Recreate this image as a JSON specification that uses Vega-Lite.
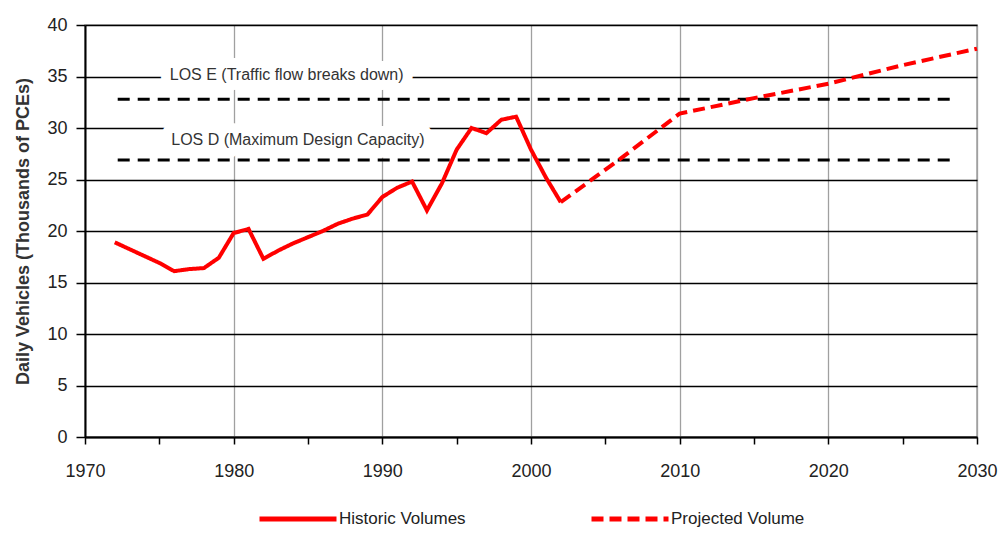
{
  "$schema": "https://vega.github.io/schema/vega-lite/v6.json",
  "width": 892,
  "height": 412,
  "padding": {"left": 14, "top": 16, "right": 0, "bottom": 0},
  "background": "white",
  "config": {
    "font": "Liberation Sans",
    "view": {"stroke": "#a0a0a0", "strokeWidth": 1.5},
    "legend": {"layout": {"bottom": {"anchor": "middle"}}}
  },
  "datasets": {
    "volumes": [
      {"year": 1972, "value": 18.9, "series": "Historic Volumes"},
      {"year": 1975, "value": 16.9, "series": "Historic Volumes"},
      {"year": 1976, "value": 16.1, "series": "Historic Volumes"},
      {"year": 1977, "value": 16.3, "series": "Historic Volumes"},
      {"year": 1978, "value": 16.4, "series": "Historic Volumes"},
      {"year": 1979, "value": 17.4, "series": "Historic Volumes"},
      {"year": 1980, "value": 19.8, "series": "Historic Volumes"},
      {"year": 1981, "value": 20.2, "series": "Historic Volumes"},
      {"year": 1982, "value": 17.3, "series": "Historic Volumes"},
      {"year": 1983, "value": 18.1, "series": "Historic Volumes"},
      {"year": 1984, "value": 18.8, "series": "Historic Volumes"},
      {"year": 1985, "value": 19.4, "series": "Historic Volumes"},
      {"year": 1986, "value": 20.0, "series": "Historic Volumes"},
      {"year": 1987, "value": 20.7, "series": "Historic Volumes"},
      {"year": 1988, "value": 21.2, "series": "Historic Volumes"},
      {"year": 1989, "value": 21.6, "series": "Historic Volumes"},
      {"year": 1990, "value": 23.3, "series": "Historic Volumes"},
      {"year": 1991, "value": 24.2, "series": "Historic Volumes"},
      {"year": 1992, "value": 24.8, "series": "Historic Volumes"},
      {"year": 1993, "value": 22.0, "series": "Historic Volumes"},
      {"year": 1994, "value": 24.6, "series": "Historic Volumes"},
      {"year": 1995, "value": 27.9, "series": "Historic Volumes"},
      {"year": 1996, "value": 30.0, "series": "Historic Volumes"},
      {"year": 1997, "value": 29.5, "series": "Historic Volumes"},
      {"year": 1998, "value": 30.8, "series": "Historic Volumes"},
      {"year": 1999, "value": 31.1, "series": "Historic Volumes"},
      {"year": 2000, "value": 27.9, "series": "Historic Volumes"},
      {"year": 2001, "value": 25.2, "series": "Historic Volumes"},
      {"year": 2002, "value": 22.8, "series": "Historic Volumes"},
      {"year": 2002, "value": 22.8, "series": "Projected Volume"},
      {"year": 2006, "value": 27.0, "series": "Projected Volume"},
      {"year": 2010, "value": 31.4, "series": "Projected Volume"},
      {"year": 2015, "value": 32.9, "series": "Projected Volume"},
      {"year": 2020, "value": 34.3, "series": "Projected Volume"},
      {"year": 2025, "value": 36.1, "series": "Projected Volume"},
      {"year": 2030, "value": 37.7, "series": "Projected Volume"}
    ],
    "los": [
      {"level": "LOS E", "year": 1972.2, "value": 32.8},
      {"level": "LOS E", "year": 2028.6, "value": 32.8},
      {"level": "LOS D", "year": 1972.2, "value": 26.9},
      {"level": "LOS D", "year": 2028.6, "value": 26.9}
    ],
    "labels": [
      {"year": 1975.7, "value": 35.1, "label": "LOS E (Traffic flow breaks down)"},
      {"year": 1975.8, "value": 28.8, "label": "LOS D (Maximum Design Capacity)"}
    ]
  },
  "encoding": {
    "x": {
      "field": "year",
      "type": "quantitative",
      "scale": {"domain": [1970, 2030], "nice": false, "zero": false},
      "axis": {
        "title": null,
        "values": [1970, 1975, 1980, 1985, 1990, 1995, 2000, 2005, 2010, 2015, 2020, 2025, 2030],
        "format": "d",
        "labelExpr": "datum.value % 10 === 0 ? datum.label : ''",
        "grid": true,
        "gridColor": "#a0a0a0",
        "gridWidth": 1.3,
        "gridOpacity": {"condition": {"test": "datum.value % 10 !== 0", "value": 0}, "value": 1},
        "domainColor": "#000000",
        "domainWidth": 2,
        "tickColor": "#000000",
        "tickWidth": 1.5,
        "tickSize": 7,
        "labelFontSize": 18,
        "labelColor": "#222222",
        "labelPadding": 18,
        "labelFlush": false,
        "labelOverlap": false
      }
    },
    "y": {
      "field": "value",
      "type": "quantitative",
      "scale": {"domain": [0, 40], "nice": false},
      "axis": {
        "title": "Daily Vehicles (Thousands of PCEs)",
        "titleFontSize": 18,
        "titleFontWeight": "bold",
        "titleColor": "#333333",
        "titlePadding": 14,
        "values": [0, 5, 10, 15, 20, 25, 30, 35, 40],
        "grid": true,
        "gridColor": "#000000",
        "gridWidth": 1.5,
        "domainColor": "#000000",
        "domainWidth": 2,
        "tickColor": "#000000",
        "tickWidth": 1.5,
        "tickSize": 9,
        "labelFontSize": 18,
        "labelColor": "#222222",
        "labelPadding": 9,
        "labelFlush": false,
        "labelOverlap": false
      }
    }
  },
  "layer": [
    {
      "data": {"name": "los"},
      "mark": {"type": "line", "color": "#000000", "strokeWidth": 3, "strokeDash": [12, 8]},
      "encoding": {"detail": {"field": "level"}}
    },
    {
      "data": {"name": "labels"},
      "mark": {"type": "text", "align": "left", "baseline": "middle", "fontSize": 16, "fill": "white", "stroke": "white", "strokeWidth": 20, "strokeJoin": "round"},
      "encoding": {"text": {"field": "label"}}
    },
    {
      "data": {"name": "labels"},
      "mark": {"type": "text", "align": "left", "baseline": "middle", "fontSize": 16, "color": "#333333"},
      "encoding": {"text": {"field": "label"}}
    },
    {
      "data": {"name": "volumes"},
      "mark": {"type": "line", "strokeWidth": 4, "color": "#ff0000"},
      "encoding": {
        "strokeDash": {
          "field": "series",
          "type": "nominal",
          "scale": {"domain": ["Historic Volumes", "Projected Volume"], "range": [[1, 0], [12, 6]]},
          "legend": {
            "title": null,
            "orient": "bottom",
            "direction": "horizontal",
            "symbolType": "stroke",
            "symbolSize": 5929,
            "symbolStrokeWidth": 5,
            "symbolStrokeColor": "#ff0000",
            "labelFontSize": 17,
            "labelColor": "#222222",
            "labelOffset": 0,
            "columnPadding": 115,
            "offset": -2,
            "labelLimit": 300
          }
        }
      }
    }
  ]
}
